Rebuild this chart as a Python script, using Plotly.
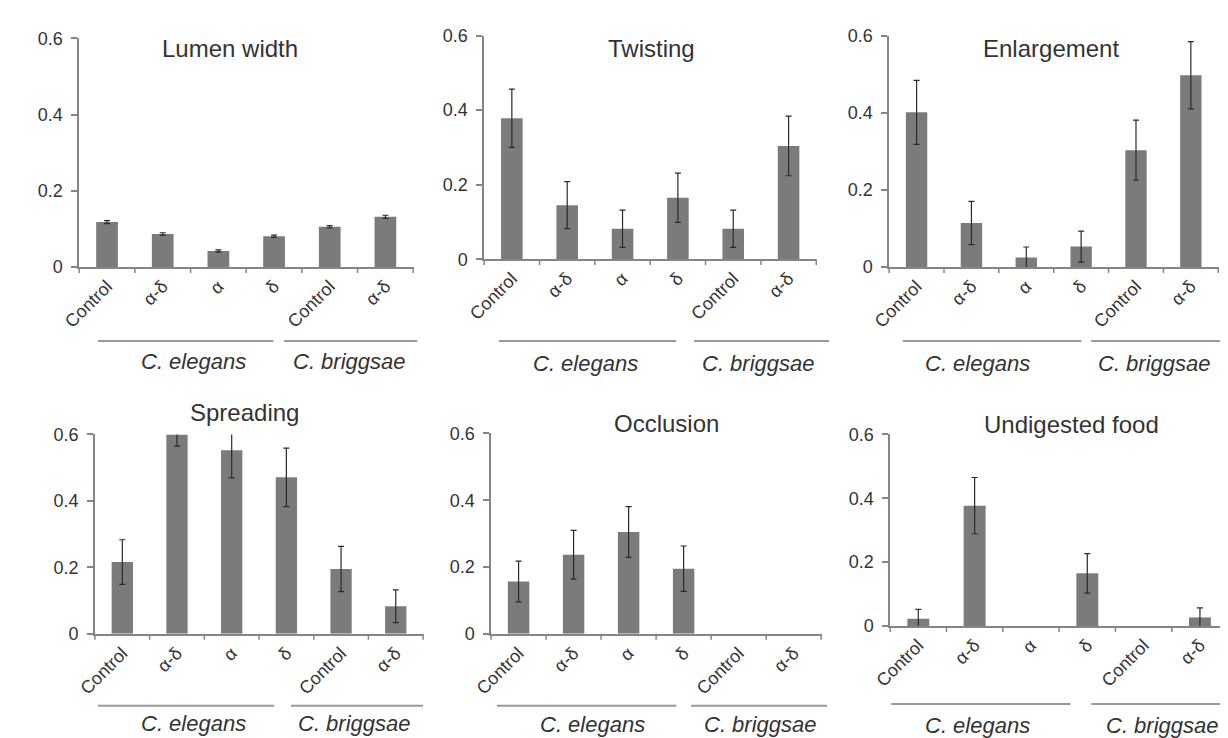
import plotly.graph_objects as go

# ---------------- data ----------------
categories = ["Control", "α-δ", "α", "δ", "Control", "α-δ"]
species = ["C. elegans", "C. briggsae"]
y_ticks = [0, 0.2, 0.4, 0.6]
y_tick_text = ["0", "0.2", "0.4", "0.6"]

titles = ["Lumen width", "Twisting", "Enlargement", "Spreading", "Occlusion", "Undigested food"]

lumen_width = [0.118, 0.087, 0.042, 0.081, 0.106, 0.132]
lumen_width_err = [0.004, 0.003, 0.003, 0.003, 0.003, 0.004]

twisting = [0.378, 0.145, 0.082, 0.165, 0.082, 0.304]
twisting_err = [0.078, 0.063, 0.050, 0.066, 0.050, 0.080]

enlargement = [0.401, 0.114, 0.025, 0.053, 0.303, 0.497]
enlargement_err = [0.083, 0.056, 0.027, 0.040, 0.078, 0.087]

spreading = [0.216, 0.600, 0.552, 0.471, 0.195, 0.083]
spreading_err = [0.067, 0.035, 0.083, 0.088, 0.068, 0.049]

occlusion = [0.157, 0.237, 0.305, 0.195, 0, 0]
occlusion_err = [0.061, 0.073, 0.076, 0.068, None, None]

undigested_food = [0.023, 0.377, 0, 0.165, 0, 0.027]
undigested_food_err = [0.029, 0.088, None, 0.062, None, 0.030]

values = [lumen_width, twisting, enlargement, spreading, occlusion, undigested_food]
errors = [lumen_width_err, twisting_err, enlargement_err, spreading_err, occlusion_err, undigested_food_err]

# ---------------- layout (pixels) ----------------
W, H = 1228, 738
# plot area: left, right, top(0.6), bottom(0)
panels_px = [
    (54, 393, 21, 256),
    (465, 802, 18, 248),
    (876, 1210, 18, 256),
    (70, 403, 428, 633),
    (472, 807, 427, 633),
    (877, 1220, 428, 625),
]
title_px = [(207, 31), (635, 31), (1040, 31), (222, 405), (650, 417), (1061, 418)]
# group underline segments (x0, x1) for elegans, briggsae, y of line, label x's, label y
group_lines_px = [
    ((73, 251), (262, 397), 332, (170, 328), 353),
    ((480, 660), (678, 815), 332, (568, 743), 355),
    ((890, 1071), (1081, 1216), 332, (966, 1145), 355),
    ((73, 252), (269, 403), 707, (170, 333), 725),
    ((478, 660), (675, 813), 707, (575, 745), 726),
    ((878, 1060), (1081, 1221), 705, (966, 1153), 727),
]
TICK_LEN = 6

FONT = "Liberation Sans, Arial, sans-serif"
BAR = "#7b7b7b"
AXIS = "#858585"
TXT = "#333333"

def px_x(p):
    return p / W

def px_y(p):
    return 1 - p / H

fig = go.Figure()
layout = dict(
    width=W, height=H, margin=dict(l=0, r=0, t=0, b=0), autosize=False,
    plot_bgcolor="white", paper_bgcolor="white", showlegend=False,
    font=dict(family=FONT, color=TXT),
    bargap=0.61,
)
annotations = []
shapes = []

ncat = len(categories)
xpos = list(range(ncat))
for i in range(6):
    n = "" if i == 0 else str(i + 1)
    l, r, t, b = panels_px[i]
    fig.add_trace(go.Bar(
        x=xpos, y=values[i],
        marker=dict(color=BAR, line=dict(width=0)),
        xaxis="x" + n, yaxis="y" + n, hoverinfo="skip",
    ))
    # error bars only where an error exists
    ex = [x for x, e in zip(xpos, errors[i]) if e is not None]
    ey = [v for v, e in zip(values[i], errors[i]) if e is not None]
    ee = [e for e in errors[i] if e is not None]
    fig.add_trace(go.Scatter(
        x=ex, y=ey, mode="markers", marker=dict(size=1, color="rgba(0,0,0,0)"),
        error_y=dict(type="data", array=ee, color="#2a2a2a", thickness=1.2, width=3),
        xaxis="x" + n, yaxis="y" + n, hoverinfo="skip",
    ))

    layout["xaxis" + n] = dict(
        domain=[px_x(l), px_x(r)], anchor="y" + n,
        range=[-0.5, ncat - 0.5],
        tickmode="array", tickvals=xpos, ticktext=categories,
        tickangle=-45, ticks="", showgrid=False, zeroline=False,
        showline=True, linecolor=AXIS, linewidth=1.5,
        tickfont=dict(size=18, color=TXT, family=FONT),
        fixedrange=True,
    )
    layout["yaxis" + n] = dict(
        domain=[px_y(b), px_y(t)], anchor="x" + n,
        range=[0, 0.6], tickmode="array", tickvals=y_ticks, ticktext=y_tick_text,
        ticks="outside", ticklen=TICK_LEN, tickwidth=1.5, tickcolor=AXIS,
        showgrid=False, zeroline=False,
        showline=True, linecolor=AXIS, linewidth=1.5,
        tickfont=dict(size=18, color=TXT, family=FONT), ticklabelstandoff=5,
        fixedrange=True,
    )
    # category-boundary tick marks below the x axis
    for k in range(ncat + 1):
        xb = l + k * (r - l) / ncat
        shapes.append(dict(type="line", xref="paper", yref="paper", layer="above",
                           x0=px_x(xb), x1=px_x(xb), y0=px_y(b), y1=px_y(b + TICK_LEN),
                           line=dict(color=AXIS, width=1.5)))
    tx, ty = title_px[i]
    annotations.append(dict(
        text=titles[i], x=px_x(tx), y=px_y(ty), xref="paper", yref="paper",
        showarrow=False, xanchor="center", yanchor="middle",
        font=dict(size=24, color=TXT, family=FONT),
    ))
    seg_e, seg_b, ly, (lx_e, lx_b), lab_y = group_lines_px[i]
    for (x0, x1) in (seg_e, seg_b):
        shapes.append(dict(type="line", xref="paper", yref="paper",
                           x0=px_x(x0), x1=px_x(x1), y0=px_y(ly), y1=px_y(ly),
                           line=dict(color="#999999", width=2)))
    for name, lx in zip(species, (lx_e, lx_b)):
        annotations.append(dict(
            text="<i>" + name + "</i>", x=px_x(lx), y=px_y(lab_y), xref="paper", yref="paper",
            showarrow=False, xanchor="center", yanchor="middle",
            font=dict(size=22, color=TXT, family=FONT),
        ))

layout["annotations"] = annotations
layout["shapes"] = shapes
fig.update_layout(**layout)
fig.write_html("out.html")
